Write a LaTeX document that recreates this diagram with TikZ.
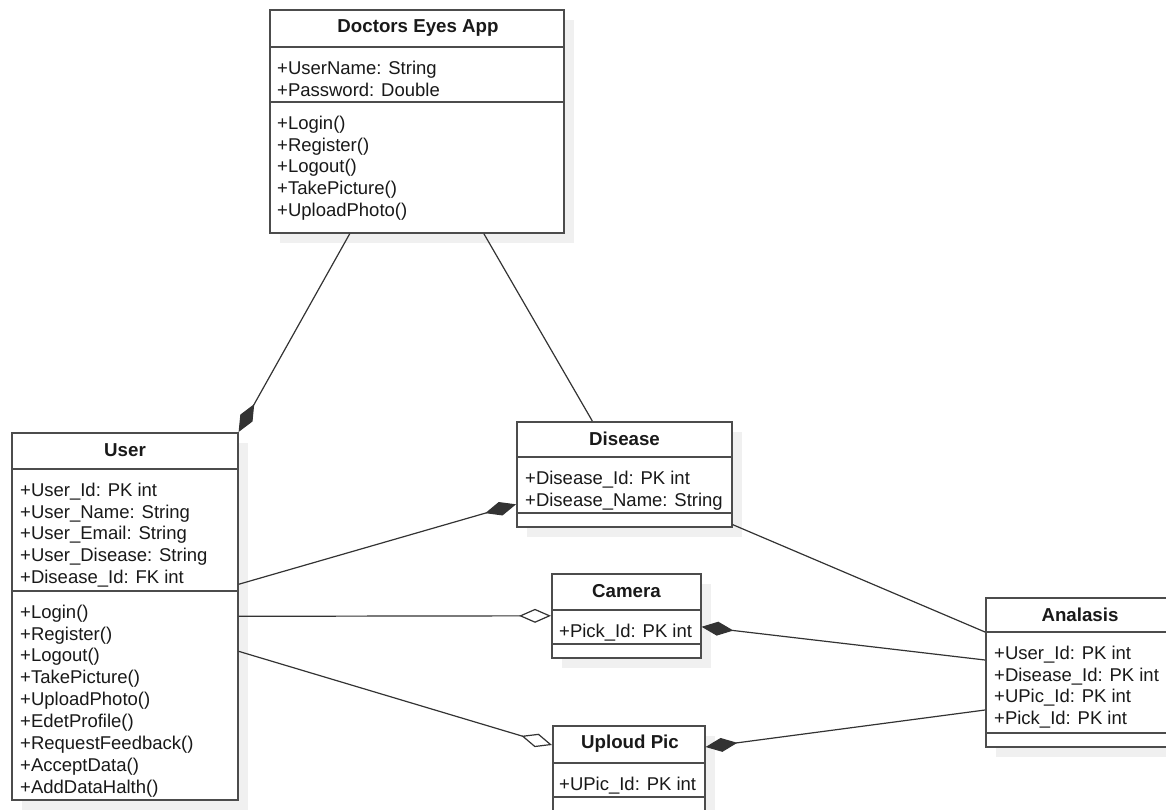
\documentclass[tikz,border=0pt]{standalone}
\usepackage{fontspec}
\setmainfont{Liberation Sans}
\usetikzlibrary{arrows.meta,shadows}

\tikzset{
    classbox/.style = {draw = black!70, line width = 1.6pt, fill = white, inner sep = 0pt, anchor = north west,
        drop shadow = {shadow xshift = 10pt, shadow yshift = -10pt, fill = black!6, opacity = 1}},
    divider/.style = {draw = black!70, line width = 1.6pt},
    classname/.style = {font = \fontsize{18.7}{22}\selectfont\bfseries, text = black!90, inner sep = 0pt},
    members/.style = {font = \fontsize{18.5}{21.9}\selectfont, text = black!90, align = left, inner sep = 0pt, anchor = north west},
    link/.style = {draw = black!80, line width = 1.2pt},
    compose/.style = {link, -{Diamond[length = 32pt, width = 14pt]}},
    aggregate/.style = {link, -{Diamond[fill = white, length = 32pt, width = 14pt]}}
}

\begin{document}
\begin{tikzpicture}[x = 1pt, y = -1pt]
    \useasboundingbox (0, 0) rectangle (1166, 810);

    % Doctors Eyes App
    \node[classbox, minimum width = 294pt, minimum height = 223pt] (app) at (269, 9) {};
    \draw[divider] (269, 47) -- (563, 47);
    \draw[divider] (269, 102) -- (563, 102);
    \node[classname] (apptitle) at (418, 28) {Doctors Eyes App};
    \node[members] (appattr) at (277, 60.5) {+UserName: String\\+Password: Double};
    \node[members] (appops) at (277, 115.5) {+Login()\\+Register()\\+Logout()\\+TakePicture()\\+UploadPhoto()};

    % User
    \node[classbox, minimum width = 226pt, minimum height = 367pt] (user) at (11, 432) {};
    \draw[divider] (11, 469) -- (237, 469);
    \draw[divider] (11, 591) -- (237, 591);
    \node[classname] (usertitle) at (125, 450.5) {User};
    \node[members] (userattr) at (20, 482.5) {+User\_Id: PK int\\+User\_Name: String\\+User\_Email: String\\+User\_Disease: String\\+Disease\_Id: FK int};
    \node[members] (userops) at (20, 604.5) {+Login()\\+Register()\\+Logout()\\+TakePicture()\\+UploadPhoto()\\+EdetProfile()\\+RequestFeedback()\\+AcceptData()\\+AddDataHalth()};

    % Disease
    \node[classbox, minimum width = 215pt, minimum height = 105pt] (disease) at (516, 421) {};
    \draw[divider] (516, 457) -- (731, 457);
    \draw[divider] (516, 513) -- (731, 513);
    \node[classname] (diseasetitle) at (624.5, 439) {Disease};
    \node[members] (diseaseattr) at (525, 470.5) {+Disease\_Id: PK int\\+Disease\_Name: String};

    % Camera
    \node[classbox, minimum width = 149pt, minimum height = 84pt] (camera) at (551, 573) {};
    \draw[divider] (551, 610) -- (700, 610);
    \draw[divider] (551, 644) -- (700, 644);
    \node[classname] (cameratitle) at (626.5, 591.5) {Camera};
    \node[members] (cameraattr) at (559, 623.5) {+Pick\_Id: PK int};

    % Uploud Pic
    \node[classbox, minimum width = 152pt, minimum height = 85pt] (upload) at (552, 725) {};
    \draw[divider] (552, 763) -- (704, 763);
    \draw[divider] (552, 797) -- (704, 797);
    \node[classname] (uploadtitle) at (630, 744) {Uploud Pic};
    \node[members] (uploadattr) at (559, 776.5) {+UPic\_Id: PK int};

    % Analasis
    \node[classbox, minimum width = 188pt, minimum height = 149pt] (analysis) at (985, 597) {};
    \draw[divider] (985, 632) -- (1173, 632);
    \draw[divider] (985, 733) -- (1173, 733);
    \node[classname] (analysistitle) at (1080, 614.5) {Analasis};
    \node[members] (analysisattr) at (994, 645.5) {+User\_Id: PK int\\+Disease\_Id: PK int\\+UPic\_Id: PK int\\+Pick\_Id: PK int};

    % links
    \draw[compose] ([xshift = -67pt]app.south) -- (user.north east);
    \draw[link] ([xshift = 67pt]app.south) -- ([xshift = -32pt]disease.north);
    \draw[compose] ([yshift = 32pt]user.east) -- ([yshift = -30pt]disease.west);
    \draw[aggregate] (user.east) -- (camera.west);
    \draw[aggregate] ([yshift = -35pt]user.east) -- ([yshift = -20pt]upload.north west);
    \draw[link] ([yshift = 3pt]disease.south east) -- ([yshift = -35pt]analysis.north west);
    \draw[compose] ([yshift = -63pt]analysis.north west) -- ([yshift = -11pt]camera.east);
    \draw[compose] ([yshift = -113pt]analysis.north west) -- ([yshift = -22pt]upload.north east);
\end{tikzpicture}
\end{document}
